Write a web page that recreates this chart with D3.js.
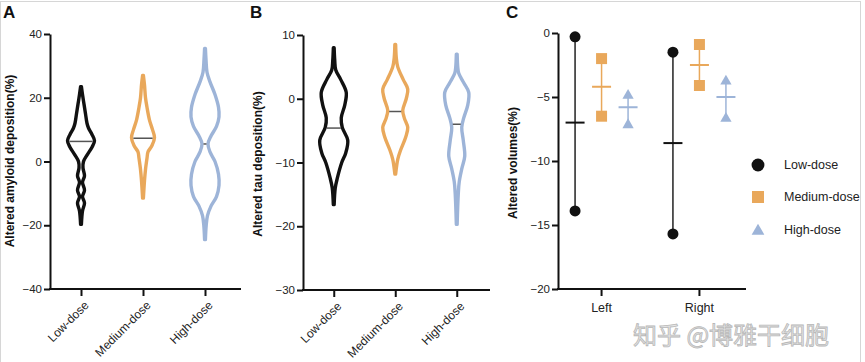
<!DOCTYPE html>
<html><head><meta charset="utf-8">
<script src="https://cdn.jsdelivr.net/npm/d3@7/dist/d3.min.js"></script>
<style>
html,body{margin:0;padding:0;background:#fff;}
svg{display:block;font-family:"Liberation Sans",Arial,sans-serif;}
</style></head>
<body>
<svg id="chart" width="865" height="362"></svg>
<script>
// ---------- DATA ----------
const groups = ["Low-dose", "Medium-dose", "High-dose"];
const colors = ["#111111", "#E9A85B", "#9DB4D8"];

// Panel A: violin profiles [value, relative density]
const amyloidLow = [[23.5,0.4],[21,1.5],[18,3],[15,4.5],[12,6],[10.5,7.5],[8.5,11],[6.5,13.5],[4.5,11],[2,6],[0,2.5],[-2,2],[-4.5,3.5],[-6.5,1.5],[-9,3.5],[-11,1.5],[-13,3.5],[-15.5,1.5],[-19.7,0.4]];
const amyloidMedium = [[27,0.4],[24,1.5],[20,2.5],[17,4],[13,6.5],[10,9.5],[7.5,11.5],[5,9],[3,5],[1,4],[-2.5,2.5],[-6,1.5],[-11.5,0.4]];
const amyloidHigh = [[35.5,0.4],[32,1],[28,2],[25,5],[21,10],[17,13.5],[14,14],[11,11.5],[8,6],[5.5,3],[3,5],[0,10],[-4,13.5],[-7.5,14],[-11,11.5],[-14,6],[-17,2.5],[-20,1.2],[-24.5,0.4]];
const amyloidMeans = [6.3, 7.3, 5.5];

// Panel B
const tauLow = [[8,0.4],[6,1],[4.5,2],[3,7],[1,12.5],[-1,11],[-3,7.5],[-4.5,8.5],[-6.5,14],[-8.5,12],[-10,8],[-12.5,3.5],[-14,1.5],[-16.6,0.4]];
const tauMedium = [[8.5,0.4],[6.5,1],[5,2.5],[3,8],[1.5,12.5],[0,11],[-1.8,7.5],[-3,9],[-4.5,12.5],[-6,10.5],[-8,5.5],[-9.5,2.5],[-11.8,0.4]];
const tauHigh = [[7,0.4],[5,1],[4,2],[2.5,7],[1,12],[-1,11],[-3,7],[-4.5,5],[-6.5,6.5],[-9,8],[-11,5],[-13,2.5],[-15,1.5],[-19.7,0.4]];
const tauMeans = [-4.6, -2.0, -4.0];

// Panel C
const sides = ["Left", "Right"];
const volLowPoints = [[-0.3, -13.9], [-1.5, -15.7]];
const volMediumPoints = [[-2.0, -6.5], [-0.9, -4.1]];
const volHighPoints = [[-4.8, -7.1], [-3.7, -6.6]];
const volLowMean = [-7.0, -8.6];
const volMediumMean = [-4.2, -2.5];
const volHighMean = [-5.8, -5.0];

const ticksA = [-40, -20, 0, 20, 40];
const ticksB = [-30, -20, -10, 0, 10];
const ticksC = [-20, -15, -10, -5, 0];

// ---------- DRAW ----------
const svg = d3.select("#chart");
svg.append("rect").attr("x",0.5).attr("y",1.5).attr("width",860).attr("height",370)
  .attr("fill","#fff").attr("stroke","#d6d6d6").attr("stroke-width",1);

const widthScale = d3.scaleLinear().domain([0, 14]).range([0, 14]);

function styleAxis(g) {
  g.selectAll("path.domain").attr("stroke", "#111").attr("stroke-width", 2);
  g.selectAll(".tick line").attr("stroke", "#111").attr("stroke-width", 2);
  g.selectAll(".tick text").attr("fill", "#222").style("font-size", "11.5px")
    .style("font-family", '"Liberation Sans",Arial,sans-serif');
}

function yAxisDraw(x0, y, ticks) {
  const g = svg.append("g").attr("transform", `translate(${x0},0)`)
    .call(d3.axisLeft(y).tickValues(ticks).tickSize(6).tickSizeOuter(0).tickPadding(2));
  styleAxis(g);
  return g;
}

function xAxisDraw(y0, x, xEnd, rotate) {
  const g = svg.append("g").attr("transform", `translate(0,${y0})`)
    .call(d3.axisBottom(x).tickSize(7).tickSizeOuter(0));
  styleAxis(g);
  g.select("path.domain").remove();
  g.append("line").attr("x1", x.range()[0] - 1).attr("x2", xEnd).attr("y1", 0).attr("y2", 0)
    .attr("stroke", "#111").attr("stroke-width", 2);
  if (rotate) {
    g.selectAll(".tick text").attr("text-anchor", "end").attr("x", 0).attr("y", 0)
      .attr("dy", "0.35em").style("font-size", "12px")
      .attr("transform", "translate(5,14) rotate(-45)");
  } else {
    g.selectAll(".tick text").style("font-size", "12.5px").attr("dy", "1.0em");
  }
}

function violinPanel(cfg) {
  const y = d3.scaleLinear().domain(cfg.domain).range(cfg.yRange);
  const x = d3.scalePoint().domain(groups).range(cfg.xRange).padding(0.5);
  cfg.profiles.forEach((prof, i) => {
    const cx = x(groups[i]);
    const area = d3.area()
      .y(d => y(d[0]))
      .x0(d => cx - widthScale(d[1]))
      .x1(d => cx + widthScale(d[1]))
      .curve(d3.curveCatmullRom.alpha(0.5));
    svg.append("path").datum(prof).attr("d", area)
      .attr("fill", "none").attr("stroke", colors[i]).attr("stroke-width", 3.4)
      .attr("stroke-linejoin", "round");
    const m = cfg.means[i];
    let hw = 0;
    for (let k = 0; k < prof.length - 1; k++) {
      const a = prof[k], b = prof[k+1];
      if ((m <= a[0] && m >= b[0])) {
        const t = (a[0] - m) / (a[0] - b[0]);
        hw = widthScale(a[1] + t * (b[1] - a[1]));
      }
    }
    const half = Math.max(hw - 1.7, 1.5);
    svg.append("line").attr("x1", cx - half).attr("x2", cx + half)
      .attr("y1", y(m)).attr("y2", y(m)).attr("stroke", "#555").attr("stroke-width", 1.5);
  });
  yAxisDraw(cfg.xAxisStart, y, cfg.ticks);
  xAxisDraw(cfg.yRange[0], x, cfg.xEnd, true);
}

violinPanel({domain: [-40, 40], yRange: [289, 34], xRange: [50, 236], xAxisStart: 50, xEnd: 241,
  ticks: ticksA, profiles: [amyloidLow, amyloidMedium, amyloidHigh], means: amyloidMeans});
violinPanel({domain: [-30, 10], yRange: [290, 35], xRange: [303, 487.5], xAxisStart: 303, xEnd: 490,
  ticks: ticksB, profiles: [tauLow, tauMedium, tauHigh], means: tauMeans});

// Panel C
const yC = d3.scaleLinear().domain([-20, 0]).range([289, 33]);
const xC = d3.scalePoint().domain(sides).range([558, 742]).padding(0.44);
const offC = d3.scalePoint().domain(groups).range([-26, 27]);
const pointsC = [volLowPoints, volMediumPoints, volHighPoints];
const meansC = [volLowMean, volMediumMean, volHighMean];
const symbols = [d3.symbolCircle, d3.symbolSquare, d3.symbolTriangle];
const symSize = [95, 121, 55];

groups.forEach((g, i) => {
  sides.forEach((s, j) => {
    const cx = xC(s) + offC(g);
    const [a, b] = pointsC[i][j];
    svg.append("line").attr("x1", cx).attr("x2", cx).attr("y1", yC(a)).attr("y2", yC(b))
      .attr("stroke", colors[i] === "#111111" ? "#222" : colors[i]).attr("stroke-width", 1.5);
    svg.append("line").attr("x1", cx - 9.5).attr("x2", cx + 9.5)
      .attr("y1", yC(meansC[i][j])).attr("y2", yC(meansC[i][j]))
      .attr("stroke", colors[i]).attr("stroke-width", 2);
    [a, b].forEach(v => {
      svg.append("path").attr("d", d3.symbol().type(symbols[i]).size(symSize[i])())
        .attr("transform", `translate(${cx},${yC(v) + (i === 2 ? 1 : 0)})`)
        .attr("fill", colors[i]);
    });
  });
});
yAxisDraw(558, yC, ticksC);
xAxisDraw(289, xC, 746, false);

// Legend
const legendY = [165, 197, 230];
const legSize = [130, 144, 70];
groups.forEach((g, i) => {
  svg.append("path").attr("d", d3.symbol().type(symbols[i]).size(legSize[i])())
    .attr("transform", `translate(758,${legendY[i] + (i === 2 ? 1 : 0)})`).attr("fill", colors[i]);
  svg.append("text").attr("x", 784).attr("y", legendY[i]).attr("dy", "0.35em")
    .attr("fill", "#222").style("font-size", "12.5px").text(g);
});

// Axis titles
function yTitle(x, yc, text) {
  svg.append("text").attr("transform", `translate(${x},${yc}) rotate(-90)`)
    .attr("text-anchor", "middle").attr("dy", "0.35em")
    .style("font-size", "12px").style("font-weight", "bold").attr("fill", "#111").text(text);
}
yTitle(10, 161, "Altered amyloid deposition(%)");
yTitle(258, 164, "Altered tau deposition(%)");
yTitle(513, 163, "Altered volumes(%)");

// Panel labels
[["A", 3], ["B", 250], ["C", 506]].forEach(([t, x]) => {
  svg.append("text").attr("x", x).attr("y", 18).style("font-size", "17px")
    .style("font-weight", "bold").attr("fill", "#111").text(t);
});

// Watermark
svg.append("text").attr("x", 633).attr("y", 344)
  .style("font-family", '"Noto Sans CJK SC",sans-serif').style("font-size", "24px")
  .attr("fill", "#e6e6e6").attr("stroke", "#b8b8b8").attr("stroke-width", 0.8)
  .text("知乎 @博雅干细胞");
</script>
</body></html>
